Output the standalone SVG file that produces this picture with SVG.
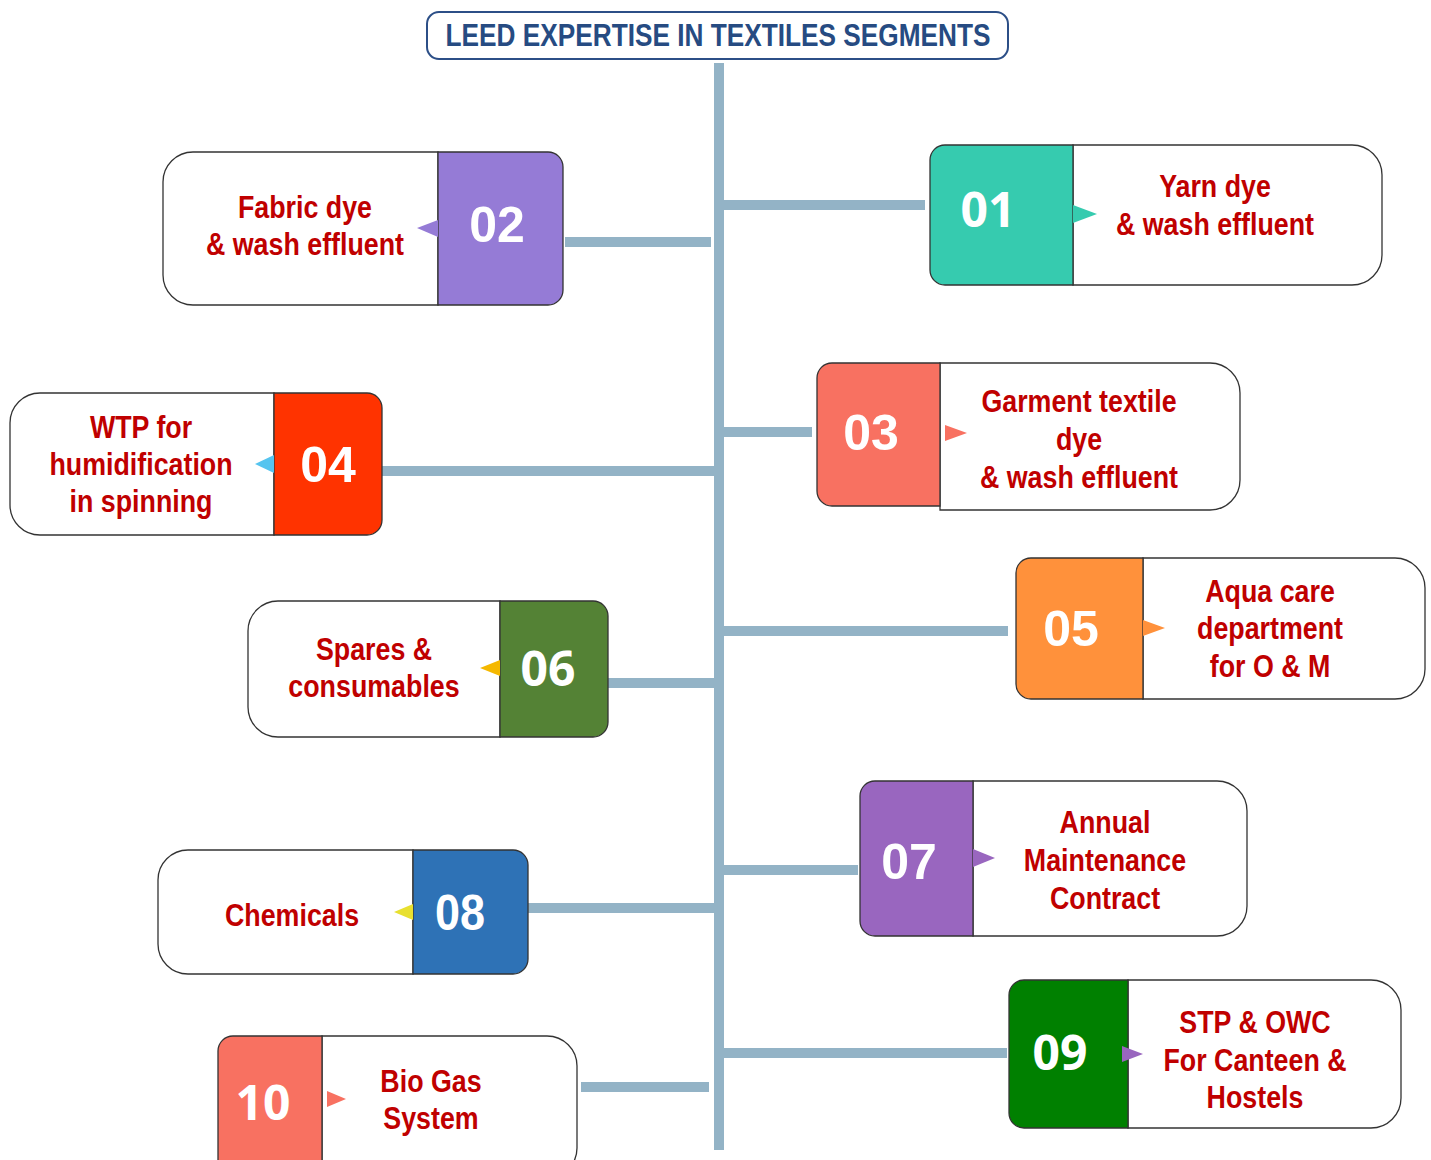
<svg xmlns="http://www.w3.org/2000/svg" width="1431" height="1160" viewBox="0 0 1431 1160">
<style>
.lbl{font-family:"Liberation Sans",Arial,sans-serif;font-weight:bold;font-size:31px;fill:#c00000;text-anchor:middle}
.num{font-family:"Liberation Sans",Arial,sans-serif;font-weight:bold;font-size:50px;fill:#ffffff;text-anchor:middle}
.num2{font-family:"Open Sans","Liberation Sans",sans-serif;font-weight:bold;font-size:48px;fill:#ffffff;text-anchor:middle}
.box{fill:#ffffff;stroke:#333333;stroke-width:1.3}
.nb{stroke:#333333;stroke-width:1.3}
.bar{fill:#93b3c6}
.title{font-family:"Liberation Sans",Arial,sans-serif;font-weight:bold;font-size:31px;fill:#264b82;text-anchor:middle}
</style>
<rect width="1431" height="1160" fill="#ffffff"/>
<g id="title">
<rect x="427" y="12" width="581" height="47" rx="12" fill="#ffffff" stroke="#2c4f87" stroke-width="2"/>
<text class="title" transform="translate(718,0) scale(0.846,1)" x="0" y="46">LEED EXPERTISE IN TEXTILES SEGMENTS</text>
</g>
<g id="connectors">
<rect class="bar" x="714" y="63" width="10" height="1087"/>
<rect class="bar" x="724" y="200" width="201" height="10"/>
<rect class="bar" x="565" y="237" width="146" height="10"/>
<rect class="bar" x="724" y="427" width="88" height="10"/>
<rect class="bar" x="382" y="466" width="332" height="10"/>
<rect class="bar" x="724" y="626" width="284" height="10"/>
<rect class="bar" x="608" y="678" width="106" height="10"/>
<rect class="bar" x="724" y="865" width="134" height="10"/>
<rect class="bar" x="528" y="903" width="186" height="10"/>
<rect class="bar" x="724" y="1048" width="283" height="10"/>
<rect class="bar" x="581" y="1082" width="128" height="10"/>
</g>
<g id="node01">
<path class="box" d="M1073,145 H1352 A30,30 0 0 1 1382,175 V255 A30,30 0 0 1 1352,285 H1073 Z"/>
<path class="nb" fill="#36cbaf" d="M1073,145 H945 A15,15 0 0 0 930,160 V270 A15,15 0 0 0 945,285 H1073 Z"/>
<polygon points="1073,205 1097,214 1073,223" fill="#36cbaf"/>
<text class="num2" x="988" y="227">01</text>
<g transform="translate(1215,0) scale(0.865,1)">
<text class="lbl" x="0" y="197">Yarn dye</text>
<text class="lbl" x="0" y="235">&amp; wash effluent</text>
</g>
</g>
<g id="node02">
<path class="box" d="M438,152 H193 A30,30 0 0 0 163,182 V275 A30,30 0 0 0 193,305 H438 Z"/>
<path class="nb" fill="#957bd6" d="M438,152 H548 A15,15 0 0 1 563,167 V290 A15,15 0 0 1 548,305 H438 Z"/>
<polygon points="438,220 417,228 438,237" fill="#957bd6"/>
<text class="num" x="497" y="242">02</text>
<g transform="translate(305,0) scale(0.865,1)">
<text class="lbl" x="0" y="218">Fabric dye</text>
<text class="lbl" x="0" y="255">&amp; wash effluent</text>
</g>
</g>
<g id="node03">
<path class="box" d="M940,363 H1210 A30,30 0 0 1 1240,393 V480 A30,30 0 0 1 1210,510 H940 Z"/>
<path class="nb" fill="#f87161" d="M940,363 H832 A15,15 0 0 0 817,378 V491 A15,15 0 0 0 832,506 H940 Z"/>
<polygon points="945,425 967,433 945,441" fill="#f87161"/>
<text class="num" x="871" y="450">03</text>
<g transform="translate(1079,0) scale(0.865,1)">
<text class="lbl" x="0" y="412">Garment textile</text>
<text class="lbl" x="0" y="450">dye</text>
<text class="lbl" x="0" y="488">&amp; wash effluent</text>
</g>
</g>
<g id="node04">
<path class="box" d="M274,393 H40 A30,30 0 0 0 10,423 V505 A30,30 0 0 0 40,535 H274 Z"/>
<path class="nb" fill="#ff3300" d="M274,393 H367 A15,15 0 0 1 382,408 V520 A15,15 0 0 1 367,535 H274 Z"/>
<polygon points="274,455 255,464 274,473" fill="#55c4ef"/>
<text class="num" x="328" y="482">04</text>
<g transform="translate(141,0) scale(0.865,1)">
<text class="lbl" x="0" y="438">WTP for</text>
<text class="lbl" x="0" y="475">humidification</text>
<text class="lbl" x="0" y="512">in spinning</text>
</g>
</g>
<g id="node05">
<path class="box" d="M1143,558 H1395 A30,30 0 0 1 1425,588 V669 A30,30 0 0 1 1395,699 H1143 Z"/>
<path class="nb" fill="#ff913b" d="M1143,558 H1031 A15,15 0 0 0 1016,573 V684 A15,15 0 0 0 1031,699 H1143 Z"/>
<polygon points="1143,620 1165,628 1143,636" fill="#ff913b"/>
<text class="num" x="1071" y="646">05</text>
<g transform="translate(1270,0) scale(0.865,1)">
<text class="lbl" x="0" y="602">Aqua care</text>
<text class="lbl" x="0" y="639">department</text>
<text class="lbl" x="0" y="677">for O &amp; M</text>
</g>
</g>
<g id="node06">
<path class="box" d="M500,601 H278 A30,30 0 0 0 248,631 V707 A30,30 0 0 0 278,737 H500 Z"/>
<path class="nb" fill="#548235" d="M500,601 H593 A15,15 0 0 1 608,616 V722 A15,15 0 0 1 593,737 H500 Z"/>
<polygon points="500,660 480,668 500,676" fill="#f5b800"/>
<text class="num2" x="548" y="686">06</text>
<g transform="translate(374,0) scale(0.865,1)">
<text class="lbl" x="0" y="660">Spares &amp;</text>
<text class="lbl" x="0" y="697">consumables</text>
</g>
</g>
<g id="node07">
<path class="box" d="M973,781 H1217 A30,30 0 0 1 1247,811 V906 A30,30 0 0 1 1217,936 H973 Z"/>
<path class="nb" fill="#9966bf" d="M973,781 H875 A15,15 0 0 0 860,796 V921 A15,15 0 0 0 875,936 H973 Z"/>
<polygon points="973,849 995,858 973,867" fill="#9966bf"/>
<text class="num" x="909" y="879">07</text>
<g transform="translate(1105,0) scale(0.865,1)">
<text class="lbl" x="0" y="833">Annual</text>
<text class="lbl" x="0" y="871">Maintenance</text>
<text class="lbl" x="0" y="909">Contract</text>
</g>
</g>
<g id="node08">
<path class="box" d="M413,850 H188 A30,30 0 0 0 158,880 V944 A30,30 0 0 0 188,974 H413 Z"/>
<path class="nb" fill="#2e72b6" d="M413,850 H513 A15,15 0 0 1 528,865 V959 A15,15 0 0 1 513,974 H413 Z"/>
<polygon points="413,904 394,912 413,920" fill="#e8e030"/>
<text class="num" transform="translate(460,0) scale(0.9,1)" x="0" y="930">08</text>
<text class="lbl" transform="translate(292,0) scale(0.865,1)" x="0" y="926">Chemicals</text>
</g>
<g id="node09">
<path class="box" d="M1128,980 H1371 A30,30 0 0 1 1401,1010 V1098 A30,30 0 0 1 1371,1128 H1128 Z"/>
<path class="nb" fill="#008000" d="M1128,980 H1024 A15,15 0 0 0 1009,995 V1113 A15,15 0 0 0 1024,1128 H1128 Z"/>
<polygon points="1122,1046 1143,1054 1122,1062" fill="#9966bf"/>
<text class="num2" x="1060" y="1070">09</text>
<g transform="translate(1255,0) scale(0.865,1)">
<text class="lbl" x="0" y="1033">STP &amp; OWC</text>
<text class="lbl" x="0" y="1071">For Canteen &amp;</text>
<text class="lbl" x="0" y="1108">Hostels</text>
</g>
</g>
<g id="node10">
<path class="box" d="M322,1036 H547 A30,30 0 0 1 577,1066 V1148 A30,30 0 0 1 547,1178 H322 Z"/>
<path class="nb" fill="#f87161" d="M322,1036 H233 A15,15 0 0 0 218,1051 V1163 A15,15 0 0 0 233,1178 H322 Z"/>
<polygon points="327,1091 346,1099 327,1107" fill="#f87161"/>
<text class="num2" x="263" y="1120">10</text>
<g transform="translate(431,0) scale(0.865,1)">
<text class="lbl" x="0" y="1092">Bio Gas</text>
<text class="lbl" x="0" y="1129">System</text>
</g>
</g>
</svg>
